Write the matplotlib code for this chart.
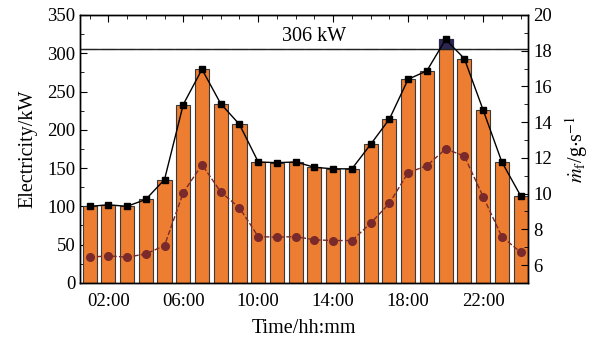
import matplotlib
matplotlib.use('Agg')
import matplotlib.pyplot as plt
import numpy as np
from matplotlib.ticker import MultipleLocator

plt.rcParams['font.family'] = ['Liberation Serif', 'DejaVu Serif']
plt.rcParams['mathtext.fontset'] = 'stix'

hours = np.arange(1, 25)
power = [100, 102, 100, 109, 135, 233, 279, 234, 207, 158, 157, 158,
         151, 149, 149, 181, 214, 266, 277, 318, 293, 226, 158, 114]
fuel = [6.44, 6.51, 6.44, 6.62, 7.09, 10.05, 11.62, 10.09, 9.2, 7.59, 7.56, 7.59,
        7.41, 7.37, 7.37, 8.34, 9.46, 11.17, 11.56, 12.5, 12.1, 9.83, 7.59, 6.72]
limit = 306
xticks = [2, 6, 10, 14, 18, 22]
xlabels = ['02:00', '06:00', '10:00', '14:00', '18:00', '22:00']

fig = plt.figure(figsize=(5.94, 3.4), dpi=100)
ax = fig.add_axes([0.135, 0.168, 0.754, 0.788])

ax.bar(hours, power, width=0.75, color='#ED7D31', edgecolor='#3a3a3a', linewidth=0.8, zorder=2)
# part of the peak bar above the limit
over = [max(p - limit, 0) for p in power]
ax.bar(hours, over, bottom=limit, width=0.75, color='#2c2750', edgecolor='#2c2750',
       linewidth=0.8, zorder=2)
ax.axhline(limit, color='#222222', lw=1.0, zorder=3)
ax.text(13, limit + 4, '306 kW', ha='center', va='bottom', fontsize=14.5)
ax.plot(hours, power, color='black', lw=1.0, marker='s', ms=4.8, zorder=4)

ax.set_xlim(0.5, 24.4)
ax.set_ylim(0, 350)
ax.set_xticks(xticks)
ax.set_xticklabels(xlabels)
ax.xaxis.set_minor_locator(MultipleLocator(1))
ax.yaxis.set_major_locator(MultipleLocator(50))
ax.yaxis.set_minor_locator(MultipleLocator(25))
ax.tick_params(which='both', direction='in', top=True, labelsize=13.5)
ax.tick_params(axis='x', pad=7)
ax.tick_params(which='major', length=5)
ax.tick_params(which='minor', length=3)
ax.set_xlabel('Time/hh:mm', fontsize=14.5, labelpad=7)
ax.set_ylabel('Electricity/kW', fontsize=14.5, labelpad=7)

ax2 = ax.twinx()
ax2.plot(hours, fuel, color='#7a2a2a', lw=1.0, ls='--', marker='o', ms=5.5,
         markeredgecolor='#7a2a2a', zorder=5)
ax2.set_ylim(5, 20)
ax2.yaxis.set_minor_locator(MultipleLocator(1))
ax2.set_yticks([6, 8, 10, 12, 14, 16, 18, 20])
ax2.tick_params(which='both', direction='in', labelsize=13.5)
ax2.tick_params(which='major', length=5)
ax2.tick_params(which='minor', length=3)
ax2.set_ylabel(r'$\dot{m}_\mathrm{f}$/g$\cdot$s$^{-1}$', fontsize=14.5, labelpad=8)

for a in (ax, ax2):
    for s in a.spines.values():
        s.set_linewidth(1.0)

fig.savefig('out.png', dpi=100)
